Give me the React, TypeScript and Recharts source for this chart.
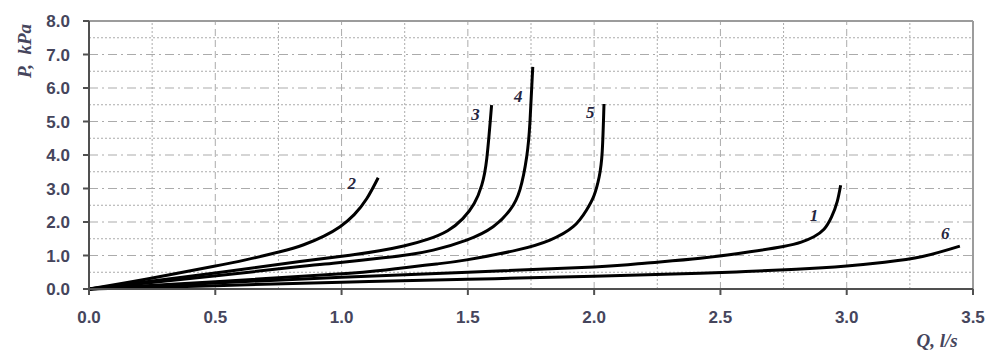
import { LineChart, Line, XAxis, YAxis, ReferenceLine, ReferenceDot } from "recharts";

// flow rate Q (l/s) vs pressure P (kPa) for six characteristics
const curve1 = [
  { q: 0, p: 0 }, { q: 0.5, p: 0.18 }, { q: 1.0, p: 0.35 }, { q: 1.5, p: 0.5 },
  { q: 2.0, p: 0.66 }, { q: 2.2, p: 0.77 }, { q: 2.42, p: 0.92 }, { q: 2.617, p: 1.11 },
  { q: 2.749, p: 1.27 }, { q: 2.82, p: 1.4 }, { q: 2.87, p: 1.56 }, { q: 2.91, p: 1.78 },
  { q: 2.94, p: 2.15 }, { q: 2.962, p: 2.6 }, { q: 2.976, p: 3.1 },
];
const curve2 = [
  { q: 0, p: 0 }, { q: 0.23, p: 0.3 }, { q: 0.49, p: 0.67 }, { q: 0.62, p: 0.87 },
  { q: 0.756, p: 1.11 }, { q: 0.85, p: 1.32 }, { q: 0.93, p: 1.58 }, { q: 0.994, p: 1.86 },
  { q: 1.05, p: 2.22 }, { q: 1.1, p: 2.7 }, { q: 1.145, p: 3.32 },
];
const curve3 = [
  { q: 0, p: 0 }, { q: 0.4, p: 0.38 }, { q: 0.835, p: 0.82 }, { q: 1.033, p: 1.01 },
  { q: 1.15, p: 1.14 }, { q: 1.25, p: 1.29 }, { q: 1.34, p: 1.48 }, { q: 1.42, p: 1.74 },
  { q: 1.48, p: 2.1 }, { q: 1.525, p: 2.55 }, { q: 1.555, p: 3.1 }, { q: 1.575, p: 3.9 },
  { q: 1.594, p: 5.49 },
];
const curve4 = [
  { q: 0, p: 0 }, { q: 0.4, p: 0.31 }, { q: 0.835, p: 0.67 }, { q: 0.967, p: 0.77 },
  { q: 1.165, p: 0.93 }, { q: 1.27, p: 1.03 }, { q: 1.363, p: 1.16 }, { q: 1.495, p: 1.46 },
  { q: 1.6, p: 1.86 }, { q: 1.667, p: 2.36 }, { q: 1.706, p: 2.96 }, { q: 1.733, p: 3.95 },
  { q: 1.746, p: 5.0 }, { q: 1.757, p: 6.63 },
];
const curve5 = [
  { q: 0, p: 0 }, { q: 0.5, p: 0.22 }, { q: 1.033, p: 0.47 }, { q: 1.231, p: 0.62 },
  { q: 1.38, p: 0.75 }, { q: 1.495, p: 0.87 }, { q: 1.693, p: 1.16 }, { q: 1.825, p: 1.46 },
  { q: 1.917, p: 1.86 }, { q: 1.97, p: 2.36 }, { q: 2.0, p: 2.8 }, { q: 2.02, p: 3.35 },
  { q: 2.032, p: 4.1 }, { q: 2.039, p: 5.52 },
];
const curve6 = [
  { q: 0, p: 0 }, { q: 0.5, p: 0.1 }, { q: 1.0, p: 0.2 }, { q: 1.5, p: 0.29 },
  { q: 2.0, p: 0.38 }, { q: 2.42, p: 0.47 }, { q: 2.6, p: 0.52 }, { q: 2.8, p: 0.59 },
  { q: 3.0, p: 0.69 }, { q: 3.15, p: 0.8 }, { q: 3.3, p: 0.97 }, { q: 3.448, p: 1.28 },
];

const curves = [curve1, curve2, curve3, curve4, curve5, curve6];

// curve number tags
const tags = [
  { name: "1", q: 2.87, p: 2.2 },
  { name: "2", q: 1.04, p: 3.16 },
  { name: "3", q: 1.53, p: 5.2 },
  { name: "4", q: 1.7, p: 5.75 },
  { name: "5", q: 1.985, p: 5.27 },
  { name: "6", q: 3.39, p: 1.67 },
];

const xTicks = [0, 0.5, 1.0, 1.5, 2.0, 2.5, 3.0, 3.5];
const yTicks = [0, 1, 2, 3, 4, 5, 6, 7, 8];
const xGrid = [0.25, 0.5, 0.75, 1, 1.25, 1.5, 1.75, 2, 2.25, 2.5, 2.75, 3, 3.25];
const yGrid = [0.5, 1, 1.5, 2, 2.5, 3, 3.5, 4, 4.5, 5, 5.5, 6, 6.5, 7, 7.5];

const gridColor = "#ababab";
const labelColor = "#45455c";
const serif = "'Liberation Serif', 'DejaVu Serif', serif";
const sans = "'Liberation Sans', Arial, sans-serif";

const TagLabel = (text: string) => (props: any) => {
  const { viewBox } = props;
  const cx = viewBox.x + (viewBox.width || 0) / 2;
  const cy = viewBox.y + (viewBox.height || 0) / 2;
  return (
    <text x={cx} y={cy} textAnchor="middle" dominantBaseline="central"
      fontFamily={serif} fontStyle="italic" fontWeight="bold" fontSize={17} fill="#26263e">
      {text}
    </text>
  );
};

export default function App() {
  return (
    <div style={{ position: "absolute", left: 0, top: 0, width: 997, height: 351, background: "#fff" }}>
      <LineChart width={997} height={351} margin={{ top: 21, right: 24, left: 0, bottom: 0 }}>
        {yGrid.map((v) => (
          <ReferenceLine key={"h" + v} y={v} stroke={gridColor} strokeWidth={1}
            strokeDasharray={Number.isInteger(v) ? "9 4 2 4" : "2 2"} />
        ))}
        {xGrid.map((v) => (
          <ReferenceLine key={"v" + v} x={v} stroke={gridColor} strokeWidth={1}
            strokeDasharray={v % 0.5 === 0 ? "7 4" : "2 2"} />
        ))}
        <ReferenceLine y={8} stroke="#9c9c9c" strokeWidth={2} />
        <ReferenceLine x={3.5} stroke="#9c9c9c" strokeWidth={2} />
        <XAxis type="number" dataKey="q" domain={[0, 3.5]} ticks={xTicks} height={62}
          tickFormatter={(v) => v.toFixed(1)} interval={0}
          axisLine={{ stroke: "#505050", strokeWidth: 2 }} tickLine={{ stroke: "#505050", strokeWidth: 2 }}
          tickSize={6} tickMargin={16}
          tick={{ fill: labelColor, fontSize: 17, fontFamily: sans, fontWeight: "bold" }} />
        <YAxis type="number" dataKey="p" domain={[0, 8]} ticks={yTicks} width={89}
          tickFormatter={(v) => v.toFixed(1)} interval={0}
          axisLine={{ stroke: "#505050", strokeWidth: 2 }} tickLine={{ stroke: "#505050", strokeWidth: 2 }}
          tickSize={6} tickMargin={13}
          tick={{ fill: labelColor, fontSize: 17, fontFamily: sans, fontWeight: "bold" }} />
        {curves.map((c, i) => (
          <Line key={i} data={c} dataKey="p" type="natural" stroke="#000" strokeWidth={3}
            dot={false} isAnimationActive={false} />
        ))}
        {tags.map((t) => (
          <ReferenceDot key={t.name} x={t.q} y={t.p} r={0} fill="none" stroke="none"
            label={TagLabel(t.name)} />
        ))}
      </LineChart>
      <div style={{ position: "absolute", left: 25, top: 51, transform: "translate(-50%, -50%) rotate(-90deg)",
        fontFamily: serif, fontStyle: "italic", fontWeight: "bold", fontSize: 19, color: labelColor, whiteSpace: "pre" }}>
        P,  kPa
      </div>
      <div style={{ position: "absolute", left: 937, top: 341, transform: "translate(-50%, -50%)",
        fontFamily: serif, fontStyle: "italic", fontWeight: "bold", fontSize: 19, color: labelColor, whiteSpace: "pre" }}>
        Q, l/s
      </div>
    </div>
  );
}
